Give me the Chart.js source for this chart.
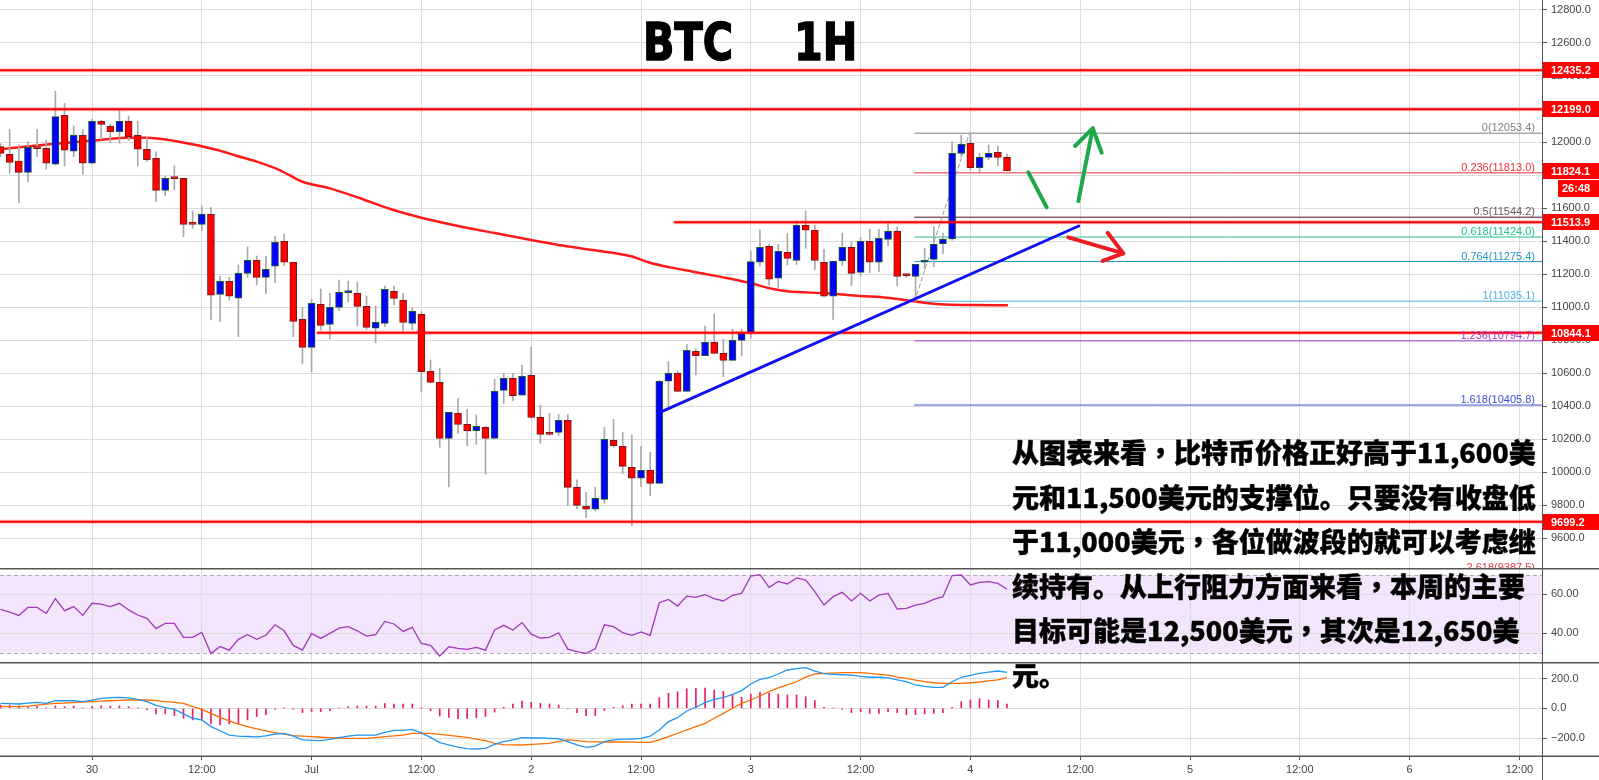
<!DOCTYPE html>
<html>
<head>
<meta charset="utf-8">
<script src="https://cdn.jsdelivr.net/npm/chart.js@4.4.1/dist/chart.umd.min.js"></script>
<style>
html, body { margin: 0; padding: 0; background: #fff; overflow: hidden; }
#wrap { position: relative; width: 1599px; height: 780px; }
canvas { position: absolute; left: 0; }
#cMain { top: 0; }
#cRsi { top: 568px; }
#cMacd { top: 662px; }
.title { position: absolute; top: 17px; font: bold 51px "DejaVu Sans"; line-height: 51px; color: #000;
  -webkit-text-stroke: 1.6px #000; transform: scaleX(0.81); transform-origin: 0 0; white-space: nowrap; }
#note { position: absolute; left: 1012px; top: 430px; font-family: "Noto Sans CJK SC"; font-weight: 900;
  font-size: 27px; line-height: 44.5px; color: #000; white-space: nowrap; -webkit-text-stroke: 0.4px #000; }
#note .c { font-family: "Noto Sans CJK TC"; }
</style>
</head>
<body>
<div id="wrap">
  <canvas id="cMain" width="1599" height="568"></canvas>
  <canvas id="cRsi" width="1599" height="94"></canvas>
  <canvas id="cMacd" width="1599" height="118"></canvas>
  <div class="title" style="left:643px">BTC</div>
  <div class="title" style="left:794px">1H</div>
  <div id="note">从图表来看<span class="c">，</span>比特币价格正好高于11,600美<br>元和11,500美元的支撑位。只要没有收盘低<br>于11,000美元<span class="c">，</span>各位做波段的就可以考虑继<br>续持有。从上行阻力方面来看<span class="c">，</span>本周的主要<br>目标可能是12,500美元<span class="c">，</span>其次是12,650美<br>元。</div>
</div>
<script>
// hourly candles, first one is Jun 29 14:00 (hour -10 from Jun 30 00:00)
const firstHour = -10;
const opens = [11972,11925,11885,11816,11968,11962,11865,12162,11944,12040,
  11871,12125,12095,12063,12125,12040,11956,11901,11707,11786,
  11780,11507,11501,11562,11077,11156,11053,11204,11283,11180,
  11247,11398,11271,10925,10755,11016,10895,10998,11087,11083,
  11004,10871,10901,11095,11042,10901,10956,10612,10543,10204,
  10356,10289,10250,10271,10204,10495,10568,10465,10586,10331,
  10240,10240,10313,9907,9792,9774,9834,10192,10156,10028,
  9962,10010,9931,10550,10598,10489,10731,10705,10786,10719,
  10677,10798,10840,11271,11368,11174,11331,11283,11495,11465,
  11271,11065,11279,11362,11210,11398,11271,11410,11459,11196,
  11186,11271,11289,11384,11412,11931,11992,11844,11907,11937,
  11907];
const highs = [11990,12077,11982,12002,12077,12012,12309,12234,12097,12073,
  12137,12133,12109,12198,12158,12127,12032,11941,11794,11855,
  11780,11582,11612,11604,11188,11180,11255,11366,11309,11309,
  11430,11442,11271,10998,11046,11109,11083,11163,11157,11149,
  11067,11006,11127,11127,11083,10996,10972,10679,10628,10362,
  10447,10380,10346,10277,10562,10598,10598,10648,10756,10404,
  10356,10350,10350,9952,9877,9907,10271,10319,10240,10224,
  10156,10119,10556,10669,10614,10774,10747,10885,10958,10804,
  10865,10865,11339,11467,11380,11380,11446,11521,11582,11495,
  11349,11279,11448,11394,11422,11471,11471,11511,11485,11200,
  11259,11356,11487,11446,12002,12042,12053,11931,11982,11976,
  11927];
const lows = [11910,11810,11632,11760,11911,11836,11861,11855,11911,11806,
  11867,12012,11996,11992,12008,11855,11881,11638,11673,11709,
  11426,11477,11463,10921,10911,11043,10820,11180,11133,11083,
  11148,11251,10820,10658,10608,10860,10806,10978,11032,10887,
  10865,10784,10881,11012,10841,10861,10487,10540,10150,9911,
  10234,10160,10168,9986,10204,10416,10432,10465,10325,10174,
  10224,10222,9796,9778,9723,9764,9810,10150,9990,9677,
  9911,9857,9931,10396,10489,10489,10588,10705,10719,10578,
  10677,10703,10810,11248,11133,11113,11255,11257,11356,11228,
  11060,10925,11250,11131,11188,11208,11214,11372,11129,11180,
  11035,11230,11244,11325,11405,11911,11830,11820,11891,11857,
  11824];
const closes = [11931,11877,11816,11968,11960,11871,12154,11950,12040,11871,
  12125,12107,12063,12125,12032,11956,11893,11707,11780,11778,
  11501,11501,11562,11071,11156,11065,11204,11283,11180,11228,
  11392,11271,10913,10755,11022,10889,10998,11089,11089,11004,
  10877,10907,11107,11052,10907,10974,10608,10543,10204,10362,
  10289,10250,10277,10204,10489,10568,10463,10580,10331,10228,
  10228,10313,9907,9798,9774,9840,10198,10160,10034,9962,
  10010,9931,10550,10598,10489,10737,10705,10786,10719,10677,
  10798,10840,11275,11362,11168,11337,11295,11495,11465,11283,
  11065,11279,11362,11204,11398,11271,11416,11459,11186,11190,
  11259,11279,11380,11412,11931,11986,11844,11907,11931,11907,
  11824];

// moving average, read at a few points
const maHours = [-10,-4.6,0.9,3.8,6,8.9,13.7,15.8,18,20.5,23,26,29.3,32.6,35.8,40,44,48,51,54.75,
  58.8,61,63.2,65.7,68.6,71.6,74.4,76,80.3,83.9,86.9,89.4,92.7,96.3,100];
const maValues = [11956,11986,12012,12026,12026,12008,11952,11917,11881,11830,11759,11719,11659,11594,11544,
  11491,11448,11406,11376,11345,11309,11268,11240,11214,11184,11150,11109,11095,11083,11067,11056,11038,
  11016,11012,11010];

const rsi = [52.3,50.9,49.2,53.3,53.3,50.2,57.8,51.6,53.7,49.2,
  55.4,55.0,53.7,55.4,52.0,49.4,47.7,42.4,45.1,45.1,
  37.9,37.9,40.5,29.6,33.2,31.4,36.9,39.3,36.9,39.0,
  44.4,41.3,33.8,31.4,40.0,37.4,40.0,42.7,43.4,41.3,
  38.6,39.3,46.1,44.8,41.0,43.1,34.8,33.8,28.4,33.1,
  32.3,31.8,32.8,31.4,41.7,44.1,41.7,45.5,39.6,37.6,
  37.9,40.3,31.9,30.6,29.7,32.1,44.4,43.4,40.3,39.0,
  40.7,39.0,55.7,57.4,54.0,59.1,58.4,59.8,57.8,56.6,
  59.5,60.5,69.4,70.1,63.6,66.6,65.3,68.4,67.3,61.4,
  54.5,58.8,61.0,56.6,60.5,56.6,59.6,60.5,52.5,52.8,
  54.5,55.4,57.4,58.8,69.6,69.9,64.8,66.1,66.5,65.6,
  62.6];

const macd = [33,31,29,35,40,33,51,51,51,45,
  55,67,72,74,70,60,45,20,5,-7,
  -38,-67,-78,-123,-151,-180,-187,-190,-193,-185,
  -173,-169,-187,-213,-216,-218,-209,-198,-187,-180,
  -180,-180,-162,-148,-148,-142,-166,-196,-231,-247,
  -261,-272,-274,-270,-243,-225,-213,-198,-200,-200,
  -202,-205,-225,-247,-263,-254,-225,-213,-207,-207,
  -202,-187,-146,-90,-63,-18,7,38,60,72,
  94,119,164,195,206,231,258,267,274,250,
  233,229,226,224,215,209,209,205,192,179,
  157,148,141,141,179,209,222,235,244,251,
  242];
const signal = [11,11,11,15,22,28,33,35,38,42,
  45,48,51,54,56,56,56,52,45,40,
  33,11,-7,-34,-61,-84,-106,-123,-139,-152,
  -164,-174,-184,-188,-191,-195,-198,-200,-202,-202,
  -202,-197,-191,-185,-180,-169,-169,-169,-176,-182,
  -189,-196,-207,-218,-236,-245,-246,-247,-243,-240,
  -236,-222,-213,-218,-225,-226,-227,-227,-227,-228,
  -229,-229,-213,-191,-168,-146,-124,-101,-67,-34,
  0,33,56,83,112,137,157,179,210,231,
  235,237,240,240,240,235,229,224,210,202,
  190,179,172,168,168,168,172,177,184,191,
  206];
const hist = [22,22,16,11,11,3,16,11,16,3,
  11,16,16,16,11,3,-11,-38,-38,-49,
  -67,-78,-78,-105,-112,-105,-101,-78,-56,-43,
  -7,2,-7,-29,-22,-22,-16,2,11,16,
  16,16,33,29,29,29,2,-16,-52,-61,
  -70,-70,-63,-56,-25,7,29,49,40,33,
  29,22,-4,-29,-49,-49,-16,7,18,29,
  29,29,72,101,110,132,134,137,123,114,
  88,74,96,110,101,96,90,90,78,52,
  7,2,-7,-29,-22,-34,-34,-22,-29,-43,
  -43,-38,-34,-29,7,45,56,65,56,52,
  29];

// axis ticks
const xTicks = [0,12,24,36,48,60,72,84,96,108,120,132,144,156];
const xTickLabels = ['30','12:00','Jul','12:00','2','12:00','3','12:00','4','12:00','5','12:00','6','12:00'];
const priceTicks = [9600,9800,10000,10200,10400,10600,10800,11000,11200,11400,11600,11800,12000,12200,12400,12600,12800];
const rsiTicks = [40, 60];
const rsiBand = [30, 70];
const macdTicks = [-200, 0, 200];

// horizontal levels drawn on the chart
const levelValues = [12435.2, 12199.0, 11513.9, 10844.1, 9699.2];
const levelStarts = [-10.1, -10.1, 63.7, 24.7, -10.1];
const priceTags = [12435.2, 12199.0, 11824.1, 11513.9, 10844.1, 9699.2];
const countdown = '26:48';

// fibonacci retracement
const fibRatios = ['0','0.236','0.5','0.618','0.764','1','1.236','1.618','2.618'];
const fibValues = [12053.4, 11813.0, 11544.2, 11424.0, 11275.4, 11035.1, 10794.7, 10405.8, 9387.5];
const fibColors = ['#808080','#e8323c','#4a1030','#22c08e','#2196c8','#4fb0e0','#a23bd0','#3d4fd4','#e0404a'];
const fibLabelColors = ['#808080','#e8323c','#6a5a5a','#22c08e','#2196c8','#4fb0e0','#a23bd0','#3d4fd4','#e0404a'];
const fibStart = 89.9;
const fibLinkHours = [89.9, 95.9];
const fibLinkPrices = [11035.1, 12053.4];

// hand drawn lines and arrows
const trendHours = [62.26, 107.84];
const trendPrices = [10365.5, 11490.9];
const greenStrokes = [
  [[102.33, 11816], [104.34, 11604]],
  [[107.8, 11642], [109.37, 12083]],
  [[107.43, 11976], [109.37, 12083], [110.35, 11935]]
];
const redStrokes = [
  [[106.7, 11422], [112.71, 11325]],
  [[111.0, 11450], [112.71, 11325], [110.46, 11279]]
];

const xMin = -10.055, xMax = 158.47;
const hours = opens.map((_, i) => firstHour + i);

Chart.defaults.font.family = '"Liberation Sans", Arial, sans-serif';
Chart.defaults.animation = false;

// no label overflow padding: panes have to line up exactly
function noPad(s) {
  s.paddingTop = 0; s.paddingBottom = 0; s.paddingLeft = 0; s.paddingRight = 0;
}

function xAxis(showLabels) {
  return {
    type: 'linear', min: xMin, max: xMax, offset: false,
    grid: { color: '#dcdcdc', offset: false, drawTicks: showLabels, tickLength: 4, tickColor: '#555' },
    border: { display: showLabels, color: '#555' },
    ticks: {
      display: showLabels, autoSkip: false, maxRotation: 0, padding: 3, color: '#444',
      font: { size: 11 },
      callback: (v, i) => xTickLabels[i]
    },
    afterBuildTicks: s => { s.ticks = xTicks.map(v => ({ value: v })); },
    afterFit: s => { s.height = showLabels ? 24 : 0; noPad(s); }
  };
}

function yAxis(min, max, ticks, fmt) {
  return {
    position: 'right', min: min, max: max,
    grid: { color: '#dcdcdc', tickColor: '#555', tickLength: 5 },
    border: { color: '#555' },
    ticks: { padding: 4, color: '#444', font: { size: 11 }, callback: fmt },
    afterBuildTicks: s => { s.ticks = ticks.map(v => ({ value: v })); },
    afterFit: s => { s.width = 57; noPad(s); }
  };
}

function lineSet(points, color, width, order, dash) {
  return {
    type: 'line', data: points.map(p => ({ x: p[0], y: p[1] })),
    borderColor: color, borderWidth: width, pointRadius: 0, fill: false,
    borderDash: dash || [], borderCapStyle: 'round', borderJoinStyle: 'round',
    tension: 0, order: order
  };
}

const baseOptions = {
  responsive: false, devicePixelRatio: 1,
  layout: { padding: 0, autoPadding: false }
};

// ---------- main price pane ----------
const mainDatasets = [];
fibValues.forEach((v, i) => {
  mainDatasets.push(lineSet([[fibStart, v], [xMax, v]], fibColors[i], 1, 20));
});
mainDatasets.push(lineSet(fibLinkHours.map((h, i) => [h, fibLinkPrices[i]]), '#9a9a9a', 1, 19, [4, 3]));
mainDatasets.push(Object.assign(lineSet(maHours.map((h, i) => [h, maValues[i]]), '#ff1a1a', 2.5, 18), { cubicInterpolationMode: 'monotone' }));
mainDatasets.push({
  type: 'bar', data: hours.map((h, i) => ({ x: h, y: [lows[i], highs[i]] })),
  backgroundColor: '#a9a9a9', barThickness: 1, grouped: false, order: 15
});
mainDatasets.push({
  type: 'bar', data: hours.map((h, i) => ({ x: h, y: [opens[i], closes[i]] })),
  backgroundColor: hours.map((_, i) => closes[i] >= opens[i] ? '#0000ff' : '#ff0000'),
  borderColor: hours.map((_, i) => closes[i] >= opens[i] ? '#1e5b2a' : '#7a1515'),
  borderWidth: 1, borderSkipped: false, barThickness: 7, minBarLength: 2, grouped: false, order: 14
});
levelValues.forEach((v, i) => {
  mainDatasets.push(lineSet([[levelStarts[i], v], [xMax, v]], 'rgba(255,0,0,0.25)', 4, 6));
  mainDatasets.push(lineSet([[levelStarts[i], v], [xMax, v]], '#ff0000', 2, 5));
});
mainDatasets.push(lineSet(trendHours.map((h, i) => [h, trendPrices[i]]), '#1010f0', 3, 4));
greenStrokes.forEach(s => mainDatasets.push(lineSet(s, '#1fa84a', 4, 3)));
redStrokes.forEach(s => mainDatasets.push(lineSet(s, '#ee1c25', 4, 3)));

const mainLabels = {
  id: 'mainLabels',
  afterDraw(chart) {
    const { ctx, chartArea: a, scales: { y } } = chart;
    ctx.save();
    ctx.beginPath();
    ctx.rect(a.left, a.top, a.right - a.left, a.bottom - a.top);
    ctx.clip();
    ctx.font = '11px "Liberation Sans"';
    ctx.textAlign = 'right';
    ctx.textBaseline = 'alphabetic';
    fibValues.forEach((v, i) => {
      ctx.fillStyle = fibLabelColors[i];
      ctx.fillText(fibRatios[i] + '(' + v.toFixed(1) + ')', a.right - 7, y.getPixelForValue(v) - 2);
    });
    ctx.restore();

    ctx.save();
    ctx.font = 'bold 11px "Liberation Sans"';
    ctx.textBaseline = 'middle';
    ctx.textAlign = 'left';
    priceTags.forEach(v => {
      const py = Math.round(y.getPixelForValue(v));
      ctx.fillStyle = '#ff0000';
      ctx.fillRect(a.right + 1, py - 8, 60, 16);
      ctx.fillStyle = '#fff';
      ctx.fillText(v.toFixed(1), a.right + 9, py + 1);
    });
    const lp = Math.round(y.getPixelForValue(priceTags[2]));
    ctx.fillStyle = '#ff0000';
    ctx.fillRect(a.right + 16, lp + 9, 41, 17);
    ctx.fillStyle = '#fff';
    ctx.fillText(countdown, a.right + 20, lp + 18);
    ctx.restore();
  }
};

new Chart(document.getElementById('cMain'), {
  type: 'bar',
  data: { datasets: mainDatasets },
  options: Object.assign({}, baseOptions, {
    plugins: { legend: { display: false }, tooltip: { enabled: false } },
    scales: {
      x: xAxis(false),
      y: yAxis(9418.2, 12860.6, priceTicks, v => v.toFixed(1))
    }
  }),
  plugins: [mainLabels]
});

// ---------- RSI pane ----------
const paneLines = {
  id: 'paneLines',
  beforeDraw(chart) {
    if (!chart.options.plugins.paneLines.band) return;
    const { ctx, chartArea: a, scales: { y } } = chart;
    const t = y.getPixelForValue(rsiBand[1]), b = y.getPixelForValue(rsiBand[0]);
    ctx.save();
    ctx.fillStyle = '#f3e6fc';
    ctx.fillRect(a.left, t, a.right - a.left, b - t);
    ctx.restore();
  },
  beforeDatasetsDraw(chart) {
    if (!chart.options.plugins.paneLines.band) return;
    const { ctx, chartArea: a, scales: { y } } = chart;
    ctx.save();
    ctx.strokeStyle = '#b6a9ba';
    ctx.lineWidth = 1;
    ctx.setLineDash([4, 3]);
    rsiBand.forEach(v => {
      const py = Math.round(y.getPixelForValue(v)) + 0.5;
      ctx.beginPath(); ctx.moveTo(a.left, py); ctx.lineTo(a.right, py); ctx.stroke();
    });
    ctx.restore();
  },
  afterDraw(chart) {
    const { ctx, chartArea: a } = chart;
    ctx.save();
    ctx.strokeStyle = '#555';
    ctx.lineWidth = 1.5;
    ctx.beginPath(); ctx.moveTo(0, 0.75); ctx.lineTo(chart.width, 0.75); ctx.stroke();
    if (chart.options.plugins.paneLines.bottom) {
      ctx.beginPath(); ctx.moveTo(0, a.bottom + 0.25); ctx.lineTo(chart.width, a.bottom + 0.25); ctx.stroke();
      ctx.lineWidth = 1;
      ctx.beginPath(); ctx.moveTo(a.right + 0.5, a.bottom); ctx.lineTo(a.right + 0.5, chart.height); ctx.stroke();
    }
    ctx.restore();
  }
};

new Chart(document.getElementById('cRsi'), {
  type: 'line',
  data: {
    datasets: [{
      data: hours.map((h, i) => ({ x: h, y: rsi[i] })),
      borderColor: '#a13ab8', borderWidth: 1.3, pointRadius: 0, tension: 0, fill: false
    }]
  },
  options: Object.assign({}, baseOptions, {
    plugins: { legend: { display: false }, tooltip: { enabled: false }, paneLines: { band: true } },
    scales: {
      x: xAxis(false),
      y: yAxis(25.3, 73.5, rsiTicks, v => v.toFixed(2))
    }
  }),
  plugins: [paneLines]
});

// ---------- MACD pane ----------
new Chart(document.getElementById('cMacd'), {
  type: 'bar',
  data: {
    datasets: [
      {
        type: 'bar', data: hours.map((h, i) => ({ x: h, y: hist[i] })),
        backgroundColor: '#e91e63', barThickness: 1, grouped: false, order: 3
      },
      {
        type: 'line', data: hours.map((h, i) => ({ x: h, y: signal[i] })),
        borderColor: '#ff6d00', borderWidth: 1.3, pointRadius: 0, tension: 0, order: 2
      },
      {
        type: 'line', data: hours.map((h, i) => ({ x: h, y: macd[i] })),
        borderColor: '#2196f3', borderWidth: 1.3, pointRadius: 0, tension: 0, order: 1
      }
    ]
  },
  options: Object.assign({}, baseOptions, {
    plugins: { legend: { display: false }, tooltip: { enabled: false }, paneLines: { band: false, bottom: true } },
    scales: {
      x: xAxis(true),
      y: yAxis(-321.2, 311.8, macdTicks, v => v < 0 ? '\u2212' + Math.abs(v).toFixed(1) : v.toFixed(1))
    }
  }),
  plugins: [paneLines]
});
</script>
</body>
</html>
